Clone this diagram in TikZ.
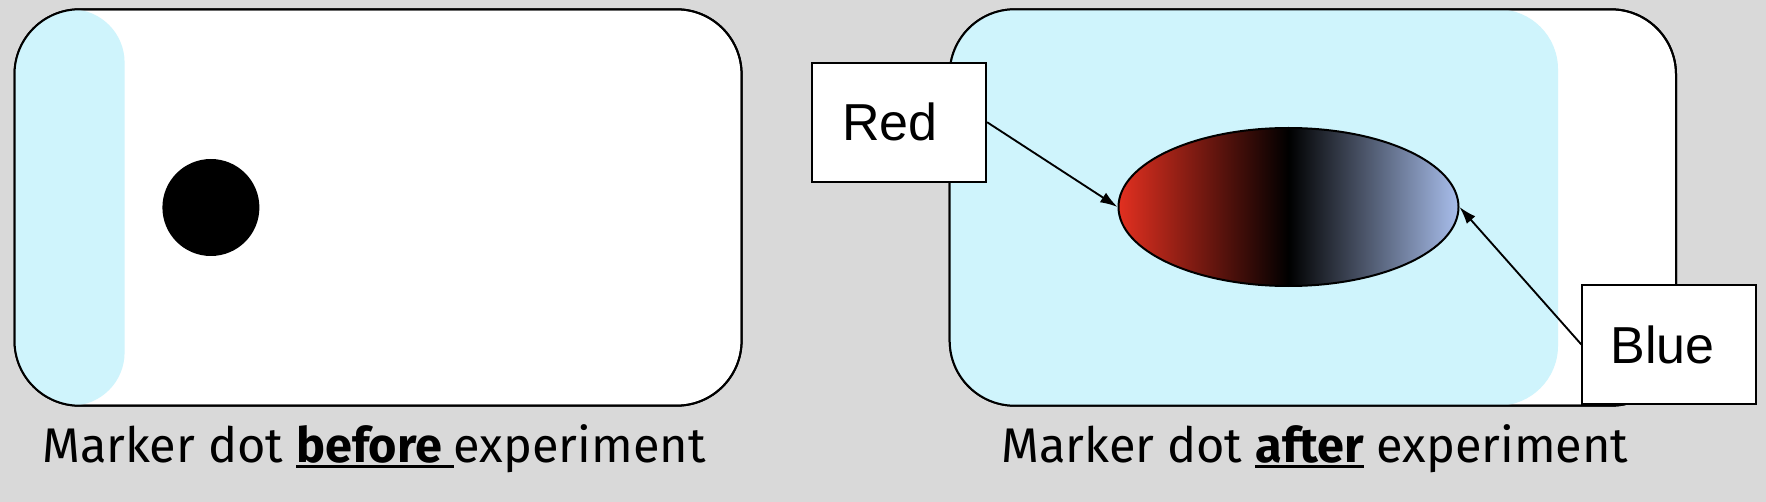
\documentclass[tikz,border=0pt]{standalone}
\usepackage{fontspec}
\usetikzlibrary{arrows.meta,shapes.geometric}
\newfontfamily\labelfont{Liberation Sans}
\newfontfamily\capfont{Fira Sans}
\definecolor{pagegrey}{RGB}{217,217,217}
\definecolor{paneblue}{RGB}{207,244,252}
\definecolor{dotred}{RGB}{226,48,32}
\definecolor{dotblue}{RGB}{168,190,236}
\pgfdeclarehorizontalshading{dotshade}{100bp}{color(0bp)=(dotred); color(25bp)=(dotred); color(50bp)=(black); color(75bp)=(dotblue); color(100bp)=(dotblue)}
\newcommand\ulbold[1]{\setbox0\hbox{\bfseries#1}\rlap{\rule[-4.5pt]{\wd0}{2.25pt}}\box0\relax}

\tikzset{every picture/.style={line width=1.5pt}}
\tikzset{
  slide/.style={rounded corners=48.75pt},
  labelbox/.style={draw, fill=white, inner sep=0.75pt, minimum width=130.3pt, minimum height=89.25pt, font=\labelfont\fontsize{39}{45}\selectfont},
  caption/.style={anchor=base, inner sep=0.75pt, font=\capfont\fontsize{36.5}{42}\selectfont},
  pointer/.style={-{Latex[length=13pt,width=8.5pt]}, line width=1.4pt}
}

\begin{document}
\begin{tikzpicture}[x=0.75pt,y=0.75pt,yscale=-1,xscale=1]
\path[fill=pagegrey] (0,0) rectangle (1766,502);

%Shape: Rounded Rect (before)
\draw[slide, fill=white] (14.5,9.3) rectangle (741.6,405.7);
\begin{scope}
\clip[slide] (14.5,9.3) rectangle (741.6,405.7);
\fill[paneblue, rounded corners=40pt] (-60,9.3) rectangle (124.6,405.7);
\end{scope}
\draw[slide] (14.5,9.3) rectangle (741.6,405.7);
%Shape: Circle
\fill (210.9,207.5) circle (48.5);

%Shape: Rounded Rect (after)
\draw[slide, fill=white] (949.7,9.3) rectangle (1676,405.7);
\begin{scope}
\clip[slide] (949.7,9.3) rectangle (1676,405.7);
\fill[paneblue, rounded corners=45pt] (880,9.3) rectangle (1558,405.7);
\end{scope}
\draw[slide] (949.7,9.3) rectangle (1676,405.7);
%Shape: Ellipse
\node[draw, ellipse, shading=dotshade, minimum width=255pt, minimum height=118.5pt, inner sep=0pt] (mark) at (1288.5,207) {};

% Text Node
\node[labelbox] (red) at (899.2,122.2) {\hspace*{-14pt}Red};
% Text Node
\node[labelbox] (blue) at (1669.2,344.5) {\hspace*{-10pt}Blue};

%Straight Lines
\draw[pointer] (red.east) -- (mark.west);
\draw[pointer] (blue.west) -- (mark.east);

% Text Node
\node[caption] (capbefore) at (374,462) {Marker dot \ulbold{before\ }experiment};
% Text Node
\node[caption] (capafter) at (1315,462) {Marker dot \ulbold{after} experiment};

\end{tikzpicture}
\end{document}
